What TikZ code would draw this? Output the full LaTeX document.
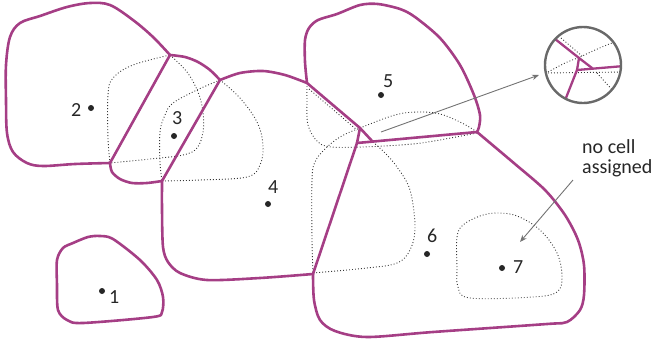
\documentclass[tikz,border=0pt]{standalone}
\usepackage{fontspec}
\setmainfont{Carlito}
\usetikzlibrary{arrows.meta}
\definecolor{cellmag}{RGB}{165,62,133}
\definecolor{ptrgray}{RGB}{115,115,115}
\definecolor{ringgray}{RGB}{105,105,105}
\definecolor{dotgray}{RGB}{55,55,55}
\begin{document}
\begin{tikzpicture}[x=1pt,y=-1pt,
  cell/.style={draw=cellmag, line width=2.6pt, line join=round, line cap=round},
  reg/.style={draw=dotgray, line width=0.9pt, dash pattern=on 0.9pt off 2.1pt},
  lbl/.style={font=\fontsize{20}{20}\selectfont, inner sep=0pt, anchor=base west, text=black!85},
  pt/.style={circle, fill=black!85, inner sep=0pt, minimum size=6pt},
  ptr/.style={draw=ptrgray, line width=0.9pt, -{Stealth[length=7pt,width=5.5pt]}}]
\useasboundingbox (0,0) rectangle (654,341);

% dotted regions
\draw[reg] plot[smooth, tension=0.6] coordinates {(110,163) (108,138) (108,95) (113,78) (133,65) (170,55)};
\draw[reg] plot[smooth, tension=0.6] coordinates {(170,55) (187,72) (198,92) (203,112) (203,132) (197,148) (183,155) (150,159) (110,163)};
\draw[reg] plot[smooth, tension=0.6] coordinates {(220,80) (197,90) (173,103) (165,115) (160,132) (160,162) (162,181)};
\draw[reg] plot[smooth, tension=0.6] coordinates {(162,181) (200,180) (247,177) (260,165) (263,145) (257,122) (240,98) (220,80)};
\draw[reg] plot[smooth, tension=0.6] coordinates {(307,86) (307,100) (308,125) (318,142) (332,147) (362,147) (400,145) (428,142) (477,133)};
\draw[reg] (309,89) -- (357,130);
\draw[reg] plot[smooth, tension=0.6] coordinates {(313,272) (312,240) (312,180) (315,162) (325,149) (340,137) (360,128) (395,115) (418,112) (440,114) (462,123) (477,132)};
\draw[reg] plot[smooth, tension=0.6] coordinates {(373,142) (385,153) (397,167) (410,190) (415,227) (410,250) (397,263) (367,268) (313,273)};
\draw[reg] plot[smooth cycle, tension=0.6] coordinates {(457,267) (457,237) (463,225) (480,216) (497,213) (517,216) (540,230) (557,253) (562,277) (557,292) (533,297) (470,298) (458,287)};

% cells
\draw[cell] plot[smooth, tension=0.55] coordinates {(110,163) (75,164) (43,166) (27,163) (13,152) (7,133) (6,100) (6,65) (10,37) (20,23) (40,16) (67,7) (90,3) (110,5) (133,20) (153,37) (170,55)};
\draw[cell] (110,163) -- (170,55);
\draw[cell] plot[smooth] coordinates {(170,55) (185,57) (198,62) (210,70) (220,80)};
\draw[cell] plot[smooth] coordinates {(110,163) (112,172) (120,179) (132,183) (147,183) (162,181)};
\draw[cell] (162,181) -- (220,80);
\draw[cell] plot[smooth] coordinates {(220,80) (240,73) (263,71) (285,75) (307,83)};
\draw[cell] plot[smooth] coordinates {(162,181) (162,210) (163,247) (168,262) (180,273) (207,280) (260,278) (313,274)};
\draw[cell] plot[smooth] coordinates {(307,83) (305,62) (305,40) (309,28) (318,20) (337,14) (360,5) (378,4) (400,9) (415,17) (440,38) (460,65) (474,95) (480,115) (479,127) (477,132)};
\draw[cell] (307,83) -- (360,128) -- (373,142);
\draw[cell] (360,128) -- (357,143);
\draw[cell] (357,143) -- (477,132);
\draw[cell] (357,143) -- (313,274);
\draw[cell] plot[smooth] coordinates {(477,132) (515,164) (545,190) (565,215) (578,240) (584,265) (584,295) (580,310) (567,322) (547,324) (433,332) (367,337) (335,331) (320,320) (314,300) (313,274)};
\draw[cell] plot[smooth cycle] coordinates {(100,236) (113,239) (140,260) (157,280) (163,297) (162,312) (153,317) (83,323) (67,320) (58,310) (57,285) (57,260) (63,248) (73,243) (88,237)};

% magnifier
\begin{scope}
\clip (583,65) circle (38pt);
\draw[reg] (561,38) -- (582,56);
\draw[reg] plot[smooth] coordinates {(540,76) (548,72) (565,63) (580,57) (595,50) (612,43) (625,39)};
\draw[reg] (545,73) -- (625,72);
\draw[reg] (597,73) -- (615,93);
\draw[cell, line width=2.3pt] (545,31) -- (579,58) -- (592,68);
\draw[cell, line width=2.3pt] (579,58) -- (577,70);
\draw[cell, line width=2.3pt] (577,70) -- (630,65.5);
\draw[cell, line width=2.3pt] (577,70) -- (562,108);
\end{scope}
\draw[draw=ringgray, line width=2.4pt] (583,65) circle (38pt);

% arrows
\coordinate (m1s) at (381,132);
\coordinate (m1e) at (539,75);
\draw[ptr] (m1s) -- (m1e);
\coordinate (m2s) at (573,180);
\coordinate (m2e) at (520,242);
\draw[ptr] (m2s) -- (m2e);

% points and labels
\node[pt] (p1) at (102,291) {};
\node[pt] (p2) at (91,108) {};
\node[pt] (p3) at (174,136) {};
\node[pt] (p4) at (268,204) {};
\node[pt] (p5) at (381,95) {};
\node[pt] (p6) at (427,254) {};
\node[pt] (p7) at (502,268) {};
\node[lbl] (l1) at (109,303) {1};
\node[lbl] (l2) at (71,116) {2};
\node[lbl] (l3) at (172,124) {3};
\node[lbl] (l4) at (268,193) {4};
\node[lbl] (l5) at (383,87) {5};
\node[lbl] (l6) at (427,242) {6};
\node[lbl] (l7) at (513,273) {7};
\node[lbl, align=left] (nca) at (582,173) {no cell\\assigned};
\end{tikzpicture}
\end{document}
